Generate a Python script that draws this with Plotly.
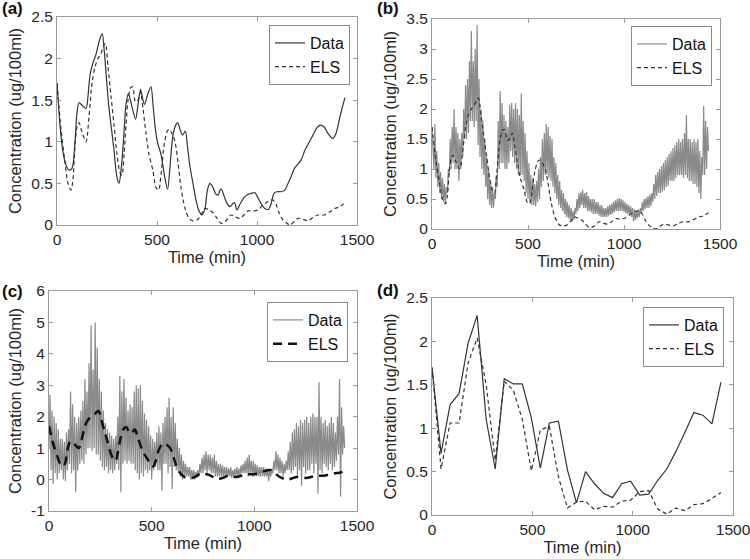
import plotly.graph_objects as go

# ---------------- data ----------------
# (a) smooth data (spline) and ELS (shared by a, b, c)
t_a = [0, 15, 30, 45, 60, 75, 90, 100, 110, 125, 145, 155, 165, 180, 195, 210, 226, 236, 246, 258,
       270, 285, 298, 310, 320, 332, 345, 357, 372, 393, 405, 418, 428, 438, 455, 470, 480, 492,
       505, 520, 537, 553, 565, 578, 590, 603, 615, 628, 642, 652, 665, 680, 695, 710, 724, 740,
       752, 764, 780, 795, 806, 815, 822, 835, 850, 865, 877, 887, 900, 915, 935, 955, 970, 988,
       1000, 1015, 1030, 1045, 1058, 1070, 1085, 1100, 1120, 1138, 1155, 1170, 1185, 1200, 1220,
       1240, 1262, 1280, 1300, 1316, 1335, 1355, 1379, 1395, 1410, 1425, 1440]
data_a = [1.71, 1.2, 0.88, 0.72, 0.66, 0.68, 1.0, 1.35, 1.47, 1.44, 1.4, 1.55, 1.8, 1.95, 2.05, 2.2, 2.3,
          2.1, 1.8, 1.45, 1.2, 0.9, 0.6, 0.5, 0.65, 1.0, 1.45, 1.58, 1.45, 1.27, 1.45, 1.63, 1.52,
          1.45, 1.58, 1.66, 1.45, 1.15, 0.97, 0.85, 0.6, 0.43, 0.7, 1.05, 1.18, 1.23, 1.15, 1.08,
          1.13, 0.95, 0.7, 0.5, 0.3, 0.17, 0.12, 0.2, 0.42, 0.5, 0.45, 0.37, 0.36, 0.42, 0.43, 0.35,
          0.26, 0.22, 0.25, 0.27, 0.18, 0.25, 0.33, 0.37, 0.38, 0.39, 0.35, 0.28, 0.22, 0.19, 0.19,
          0.25, 0.38, 0.4, 0.4, 0.42, 0.5, 0.58, 0.67, 0.72, 0.78, 0.9, 1.0, 1.08, 1.17, 1.2, 1.18,
          1.1, 1.04, 1.1, 1.25, 1.4, 1.53]

t_els = [0, 20, 40, 55, 70, 80, 90, 100, 110, 125, 145, 160, 175, 190, 205, 220, 232, 242, 255, 270,
         285, 300, 315, 325, 335, 345, 355, 368, 378, 392, 405, 418, 430, 445, 460, 480, 495, 508,
         520, 535, 550, 560, 575, 590, 605, 620, 640, 660, 680, 700, 720, 740, 760, 780, 800, 822,
         845, 870, 890, 913, 935, 955, 980, 1005, 1025, 1047, 1065, 1080, 1095, 1110, 1130, 1150,
         1165, 1185, 1205, 1230, 1254, 1280, 1304, 1337, 1365, 1390, 1415, 1440]
els_smooth = [1.7, 1.15, 0.75, 0.5, 0.42, 0.55, 0.95, 1.18, 1.23, 1.12, 1.0, 1.3, 1.7, 1.9, 2.0, 2.06,
              2.15, 2.18, 1.9, 1.55, 1.2, 0.85, 0.63, 0.6, 0.85, 1.2, 1.5, 1.65, 1.66, 1.48, 1.5, 1.6,
              1.4, 1.1, 0.85, 0.65, 0.45, 0.42, 0.6, 0.95, 1.12, 1.15, 1.1, 1.0, 0.75, 0.45, 0.2, 0.08,
              0.05, 0.06, 0.12, 0.2, 0.18, 0.15, 0.08, 0.02, 0.05, 0.12, 0.1, 0.08, 0.12, 0.17, 0.17,
              0.18, 0.23, 0.27, 0.3, 0.3, 0.25, 0.15, 0.06, 0.02, 0.0, 0.04, 0.08, 0.07, 0.05, 0.09,
              0.12, 0.12, 0.16, 0.2, 0.22, 0.27]

# (b) noisy data, every 5 min
t_fine = list(range(0, 1445, 5))
data_b = [1.70, 1.25, 1.0, 1.75, 0.85, 1.3, 0.7, 1.1, 0.6, 0.95, 0.5, 0.85, 0.45, 0.75, 0.42, 0.7,
          0.6, 1.0, 0.9, 1.5, 1.0, 1.7, 1.1, 2.0, 1.0, 1.7, 1.0, 1.6, 0.8, 1.5, 1.0, 1.6,
          1.2, 2.0, 1.5, 2.4, 1.5, 2.5, 1.6, 2.8, 1.8, 3.3, 1.8, 2.8, 1.7, 3.0, 1.8, 3.4,
          1.4, 2.5, 1.2, 2.0, 1.0, 1.8, 0.9, 1.5, 0.7, 1.2, 0.5, 1.0, 0.4, 0.8, 0.35, 0.7,
          0.35, 0.6, 0.5, 0.9, 0.7, 1.8, 1.0, 2.3, 1.1, 2.1, 1.1, 1.9, 1.0, 1.8, 1.0, 1.7,
          1.1, 2.07, 1.3, 2.1, 1.2, 2.0, 1.1, 2.1, 1.0, 2.0, 0.9, 1.9, 0.9, 2.26, 0.9, 1.8,
          0.8, 1.6, 0.6, 1.3, 0.5, 1.1, 0.45, 0.9, 0.4, 0.85, 0.4, 0.75, 0.38, 0.8, 0.45, 1.0,
          0.5, 1.2, 0.7, 1.5, 0.8, 1.6, 0.9, 1.75, 0.9, 1.7, 0.85, 1.55, 0.8, 1.5, 0.7, 1.2,
          0.6, 1.1, 0.5, 0.9, 0.4, 0.8, 0.35, 0.65, 0.3, 0.6, 0.25, 0.5, 0.2, 0.45, 0.18, 0.4,
          0.15, 0.35, 0.12, 0.3, 0.15, 0.35, 0.25, 0.5, 0.3, 0.6, 0.35, 0.62, 0.4, 0.65, 0.35, 0.6,
          0.35, 0.62, 0.3, 0.55, 0.3, 0.5, 0.28, 0.5, 0.25, 0.5, 0.25, 0.45, 0.25, 0.45, 0.22, 0.4,
          0.2, 0.4, 0.2, 0.35, 0.2, 0.35, 0.2, 0.38, 0.22, 0.4, 0.24, 0.42, 0.25, 0.45, 0.28, 0.48,
          0.3, 0.5, 0.3, 0.52, 0.3, 0.5, 0.3, 0.48, 0.28, 0.45, 0.26, 0.42, 0.25, 0.4, 0.22, 0.38,
          0.2, 0.35, 0.12, 0.33, 0.15, 0.3, 0.18, 0.32, 0.2, 0.35, 0.25, 0.45, 0.3, 0.5, 0.33, 0.52,
          0.35, 0.55, 0.35, 0.58, 0.38, 0.6, 0.45, 0.75, 0.5, 0.9, 0.55, 0.95, 0.6, 1.0, 0.6, 1.05,
          0.62, 1.1, 0.65, 1.15, 0.7, 1.2, 0.72, 1.25, 0.8, 1.3, 0.8, 1.35, 0.8, 1.4, 0.85, 1.45,
          0.9, 1.5, 0.9, 1.45, 0.9, 1.5, 0.85, 1.6, 0.9, 1.9, 0.85, 1.5, 0.8, 1.5, 0.8, 1.45,
          0.75, 1.5, 0.75, 1.45, 0.7, 1.5, 0.6, 1.3, 0.5, 1.2, 0.9, 2.05, 0.9, 1.8, 1.0, 1.7,
          1.3]

# (c) noisier data, every 5 min
data_c = [1.0, 2.7, 0.3, 2.2, -0.14, 2.0, 0.2, 1.8, 0.0, 1.6, 0.2, 1.3, 0.3, 1.3, 0.0, 1.2,
          -0.05, 1.5, 0.3, 1.6, 0.5, 2.8, 0.2, 2.4, 0.3, 2.0, -0.4, 1.8, 0.3, 2.0, 0.5, 2.2,
          0.6, 2.5, 0.5, 3.2, 0.8, 2.8, 1.0, 3.7, 1.0, 4.9, 0.9, 3.5, 1.0, 5.0, 0.8, 4.2,
          0.8, 3.2, 0.6, 2.8, 0.4, 2.2, 0.3, 1.8, 0.4, 1.6, 0.2, 1.5, 0.3, 1.4, 0.2, 1.3,
          0.3, 1.4, 0.5, 2.0, 0.3, 3.3, -0.4, 2.8, 0.5, 3.2, 0.6, 2.6, 0.5, 2.2, 0.6, 2.4,
          0.5, 2.3, 0.5, 2.8, 0.3, 3.0, 0.2, 2.9, 0.0, 3.0, 0.2, 2.5, 0.1, 2.1, 0.3, 1.9,
          0.2, 1.7, 0.3, 1.4, 0.0, 1.3, 0.3, 1.2, 0.4, 1.5, 0.3, 1.7, 0.3, 1.5, -0.35, 1.8,
          0.5, 2.0, 0.5, 2.3, 0.2, 2.6, 0.4, 2.0, -0.3, 2.3, 0.4, 1.8, 0.3, 1.3, 0.2, 1.0,
          0.1, 0.8, 0.0, 0.6, 0.1, 0.5, 0.1, 0.4, 0.1, 0.4, 0.0, 0.3, 0.1, 0.3, 0.0, 0.25,
          0.05, 0.3, 0.1, 0.5, 0.2, 0.7, 0.2, 0.8, 0.3, 0.9, 0.2, 0.8, 0.3, 0.8, 0.2, 0.7,
          0.2, 0.8, 0.1, 0.6, 0.1, 0.5, 0.1, 0.5, 0.1, 0.45, 0.1, 0.4, 0.1, 0.4, 0.1, 0.35,
          0.1, 0.4, 0.05, 0.3, 0.1, 0.35, 0.1, 0.4, 0.1, 0.35, 0.1, 0.45, 0.2, 0.5, 0.2, 0.6,
          0.2, 0.7, 0.1, 0.8, 0.2, 0.6, 0.1, 0.6, 0.1, 0.5, 0.1, 0.45, 0.1, 0.4, 0.1, 0.4,
          0.1, 0.4, 0.1, 0.35, 0.1, 0.35, -0.05, 0.3, 0.1, 0.35, 0.2, 0.6, 0.3, 0.9, 0.3, 0.8,
          0.2, 0.7, 0.2, 0.6, 0.1, 0.5, 0.2, 0.6, 0.3, 0.9, 0.3, 1.2, 0.2, 1.5, 0.3, 1.6,
          0.4, 1.8, 0.1, 1.7, 0.3, 1.9, -0.2, 1.8, 0.4, 1.9, 0.2, 2.0, 0.3, 1.8, 0.3, 2.0,
          0.5, 2.1, 0.2, 2.0, 0.5, 2.0, -0.45, 3.1, 0.3, 2.0, 0.2, 1.8, 0.5, 1.9, 0.4, 1.7,
          0.3, 1.8, 0.5, 2.0, 0.3, 1.8, 0.4, 1.5, 0.6, 2.0, 0.8, 3.2, -0.55, 2.3, 0.8, 1.7,
          1.0]

# (d) 45-min samples
t_d = [0, 45, 90, 135, 180, 225, 270, 315, 360, 405, 450, 495, 540, 585, 630, 675, 720, 765, 810,
       855, 900, 945, 990, 1035, 1080, 1125, 1170, 1215, 1260, 1305, 1350, 1395, 1440]
data_d = [1.7, 0.71, 1.27, 1.4, 1.98, 2.3, 1.1, 0.53, 1.57, 1.51, 1.51, 1.12, 0.54, 1.06, 1.08, 0.52,
          0.14, 0.5, 0.36, 0.25, 0.2, 0.36, 0.39, 0.23, 0.24, 0.4, 0.53, 0.73, 0.95, 1.18, 1.15, 1.05,
          1.53]
els_d = [1.7, 0.53, 1.06, 1.06, 1.75, 2.04, 1.5, 0.63, 1.54, 1.44, 1.1, 0.51, 0.98, 1.02, 0.44, 0.08,
         0.15, 0.16, 0.06, 0.1, 0.09, 0.16, 0.17, 0.27, 0.28, 0.07, 0.01, 0.08, 0.05, 0.12, 0.13, 0.19,
         0.26]

panel_labels = ["(a)", "(b)", "(c)", "(d)"]

# ---------------- figure ----------------
W, H = 750, 559
FONT = "Liberation Sans, Arial, sans-serif"
DARK = "#333333"
GRAY = "#8a8a8a"
TXT = "#262626"

fig = go.Figure()

# (a)
fig.add_trace(go.Scatter(x=t_a, y=data_a, mode="lines", name="Data", line=dict(color=DARK, width=1.2, shape="spline", smoothing=0.8), xaxis="x", yaxis="y", legend="legend"))
fig.add_trace(go.Scatter(x=t_els, y=els_smooth, mode="lines", name="ELS", line=dict(color=DARK, width=1.2, dash="4px,3px", shape="spline", smoothing=0.8), xaxis="x", yaxis="y", legend="legend"))
# (b)
fig.add_trace(go.Scatter(x=t_fine, y=data_b, mode="lines", name="Data", line=dict(color=GRAY, width=1.2), xaxis="x2", yaxis="y2", legend="legend2"))
fig.add_trace(go.Scatter(x=t_els, y=els_smooth, mode="lines", name="ELS", line=dict(color=DARK, width=1.2, dash="4px,3px", shape="spline", smoothing=0.8), xaxis="x2", yaxis="y2", legend="legend2"))
# (c)
fig.add_trace(go.Scatter(x=t_fine, y=data_c, mode="lines", name="Data", line=dict(color=GRAY, width=1.2), xaxis="x3", yaxis="y3", legend="legend3"))
fig.add_trace(go.Scatter(x=t_els, y=els_smooth, mode="lines", name="ELS", line=dict(color="#111111", width=2.5, dash="9px,6px", shape="spline", smoothing=0.8), xaxis="x3", yaxis="y3", legend="legend3"))
# (d)
fig.add_trace(go.Scatter(x=t_d, y=data_d, mode="lines", name="Data", line=dict(color=DARK, width=1.2), xaxis="x4", yaxis="y4", legend="legend4"))
fig.add_trace(go.Scatter(x=t_d, y=els_d, mode="lines", name="ELS", line=dict(color=DARK, width=1.2, dash="4px,3px"), xaxis="x4", yaxis="y4", legend="legend4"))

# panel geometry in pixels: (left, right, top, bottom)
boxes = [(57, 357, 17, 225), (432, 720, 19, 229), (49, 357, 291, 511), (432, 733, 298, 515)]
yranges = [[0, 2.5], [0, 3.5], [-1, 6], [0, 2.5]]
ytickvals = [[0, 0.5, 1, 1.5, 2, 2.5], [0, 0.5, 1, 1.5, 2, 2.5, 3, 3.5], [-1, 0, 1, 2, 3, 4, 5, 6], [0, 0.5, 1, 1.5, 2, 2.5]]
yticktext = [["0", "0.5", "1", "1.5", "2", "2.5"], ["0", "0.5", "1", "1.5", "2", "2.5", "3", "3.5"],
             ["-1", "0", "1", "2", "3", "4", "5", "6"], ["0", "0.5", "1", "1.5", "2", "2.5"]]
xtickvals = [0, 500, 1000, 1500]

axcommon = dict(showline=True, linecolor="#9a9a9a", linewidth=1, mirror="ticks", ticks="inside",
                ticklen=4, tickcolor="#9a9a9a", showgrid=False, zeroline=False, automargin=False,
                ticklabeloverflow="allow",
                tickfont=dict(family=FONT, size=15.5, color=TXT))

layout = dict(width=W, height=H, margin=dict(l=0, r=0, t=0, b=0, autoexpand=False), plot_bgcolor="white",
              paper_bgcolor="white", font=dict(family=FONT, size=16, color=TXT))
for i, (l, r, t, b) in enumerate(boxes):
    sx = "" if i == 0 else str(i + 1)
    layout["xaxis" + sx] = dict(axcommon, domain=[l / W, r / W], range=[0, 1500], tickvals=xtickvals,
                                anchor="y" + sx, ticklabelstandoff=0,
                                title=dict(text="Time (min)", font=dict(family=FONT, size=16.5, color=TXT), standoff=0))
    layout["yaxis" + sx] = dict(axcommon, domain=[1 - b / H, 1 - t / H], range=yranges[i],
                                tickvals=ytickvals[i], ticktext=yticktext[i], anchor="x" + sx,
                                title=dict(text="Concentration (ug/100ml)", font=dict(family=FONT, size=16.5, color=TXT), standoff=5))

# legends: (right, top) in pixels
leg_pos = [(350, 25), (712, 26), (348, 302), (724, 307)]
for i, (rx, ty) in enumerate(leg_pos):
    key = "legend" if i == 0 else "legend" + str(i + 1)
    layout[key] = dict(x=rx / W, y=1 - ty / H, xanchor="right", yanchor="top", bgcolor="white",
                       bordercolor="#8a8a8a", borderwidth=1, font=dict(family=FONT, size=16, color="#111111"),
                       itemwidth=30, tracegroupgap=0)

fig.update_layout(**layout)

label_pos = [(0, 9), (375, 9), (0, 291), (375, 290)]
for txt, (px, py) in zip(panel_labels, label_pos):
    fig.add_annotation(text="<b>" + txt + "</b>", x=px / W, y=1 - py / H, xref="paper", yref="paper",
                       xanchor="left", yanchor="middle", showarrow=False,
                       font=dict(family=FONT, size=17, color="#111111"))

# remove the default page margin so the figure sits at the window's top-left corner
fig.write_html("out.html", config={"displayModeBar": False},
               post_script="document.body.style.margin='0';")
